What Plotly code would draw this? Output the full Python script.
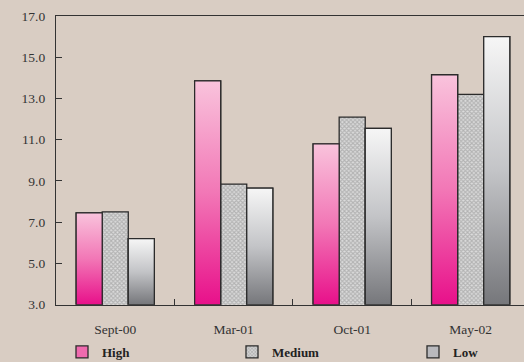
import plotly.graph_objects as go

# Survey periods and readings per level
periods = ["Sept-00", "Mar-01", "Oct-01", "May-02"]
high = [7.45, 13.85, 10.8, 14.15]
medium = [7.5, 8.85, 12.1, 13.2]
low = [6.2, 8.65, 11.55, 16.0]
y_ticks = [3, 5, 7, 9, 11, 13, 15, 17]

BG = "#d9cdc3"
EDGE = "#2b2b2b"
FONT = "Liberation Serif, Times New Roman, serif"
Y_MIN, Y_MAX = 3, 17
BAR_W = 0.22
OFFSETS = {"High": -0.33, "Medium": -0.11, "Low": 0.11}

x_pos = list(range(len(periods)))

fig = go.Figure()

series = [
    ("High", high, "#ef6aae", None, "legend"),
    ("Medium", medium, "#8a8a8a",
     dict(shape="x", size=3, solidity=0.6, fgcolor="#8a8a8a", bgcolor="#dcdcdc"), "legend2"),
    ("Low", low, "#b9b9bd", None, "legend3"),
]

for name, vals, color, pattern, leg in series:
    marker = dict(color=color, line=dict(color=EDGE, width=1.3))
    if pattern:
        marker["pattern"] = pattern
    fig.add_trace(go.Bar(
        x=x_pos, y=vals, name=name, width=BAR_W, offset=OFFSETS[name],
        marker=marker, legend=leg, hoverinfo="x+y+name",
    ))

# Vertical shading on the High and Low columns
gradients = {
    "High": (high, [[0, "#e8108a"], [0.5, "#f277b6"], [1, "#f9c3dc"]]),
    "Low": (low, [[0, "#76777b"], [0.5, "#c3c4c7"], [1, "#f6f6f6"]]),
}
for name, (vals, scale) in gradients.items():
    for i, v in zip(x_pos, vals):
        x0 = i + OFFSETS[name]
        x1 = x0 + BAR_W
        fig.add_trace(go.Scatter(
            x=[x0, x0, x1, x1, x0], y=[Y_MIN, v, v, Y_MIN, Y_MIN],
            mode="lines", fill="toself",
            fillgradient=dict(type="vertical", colorscale=scale),
            line=dict(color=EDGE, width=1.3),
            showlegend=False, hoverinfo="skip",
        ))

fig.update_layout(
    width=524, height=362,
    margin=dict(l=56, r=0, t=16, b=56),
    paper_bgcolor=BG, plot_bgcolor=BG,
    font=dict(family=FONT, size=13.5, color="#333333"),
    showlegend=True,
    xaxis=dict(
        range=[-0.5, 3.45], showgrid=False, zeroline=False,
        showline=True, linecolor="#333333", linewidth=1.3, mirror=True,
        tickmode="array", tickvals=x_pos, ticktext=periods, ticks="",
        ticklabelstandoff=12,
        minor=dict(tickmode="array", tickvals=[0.5, 1.5, 2.5], ticks="inside",
                   ticklen=6, tickcolor="#333333", tickwidth=1.2),
    ),
    yaxis=dict(
        range=[Y_MIN, Y_MAX], showgrid=False, zeroline=False,
        showline=True, linecolor="#333333", linewidth=1.3,
        tickmode="array", tickvals=y_ticks, tickformat=".1f",
        ticks="inside", ticklen=6, tickcolor="#333333", tickwidth=1.2,
        ticklabelstandoff=7,
    ),
)

leg_common = dict(
    orientation="h", xref="container", yref="container",
    yanchor="middle", xanchor="left", bgcolor="rgba(0,0,0,0)",
    itemwidth=30, font=dict(family=FONT, size=13, color="#222222", weight="bold"),
)
fig.update_layout(
    legend=dict(x=62 / 524, y=1 - 352 / 362, **leg_common),
    legend2=dict(x=232 / 524, y=1 - 352 / 362, **leg_common),
    legend3=dict(x=413 / 524, y=1 - 352 / 362, **leg_common),
)

fig.write_html("out.html")
